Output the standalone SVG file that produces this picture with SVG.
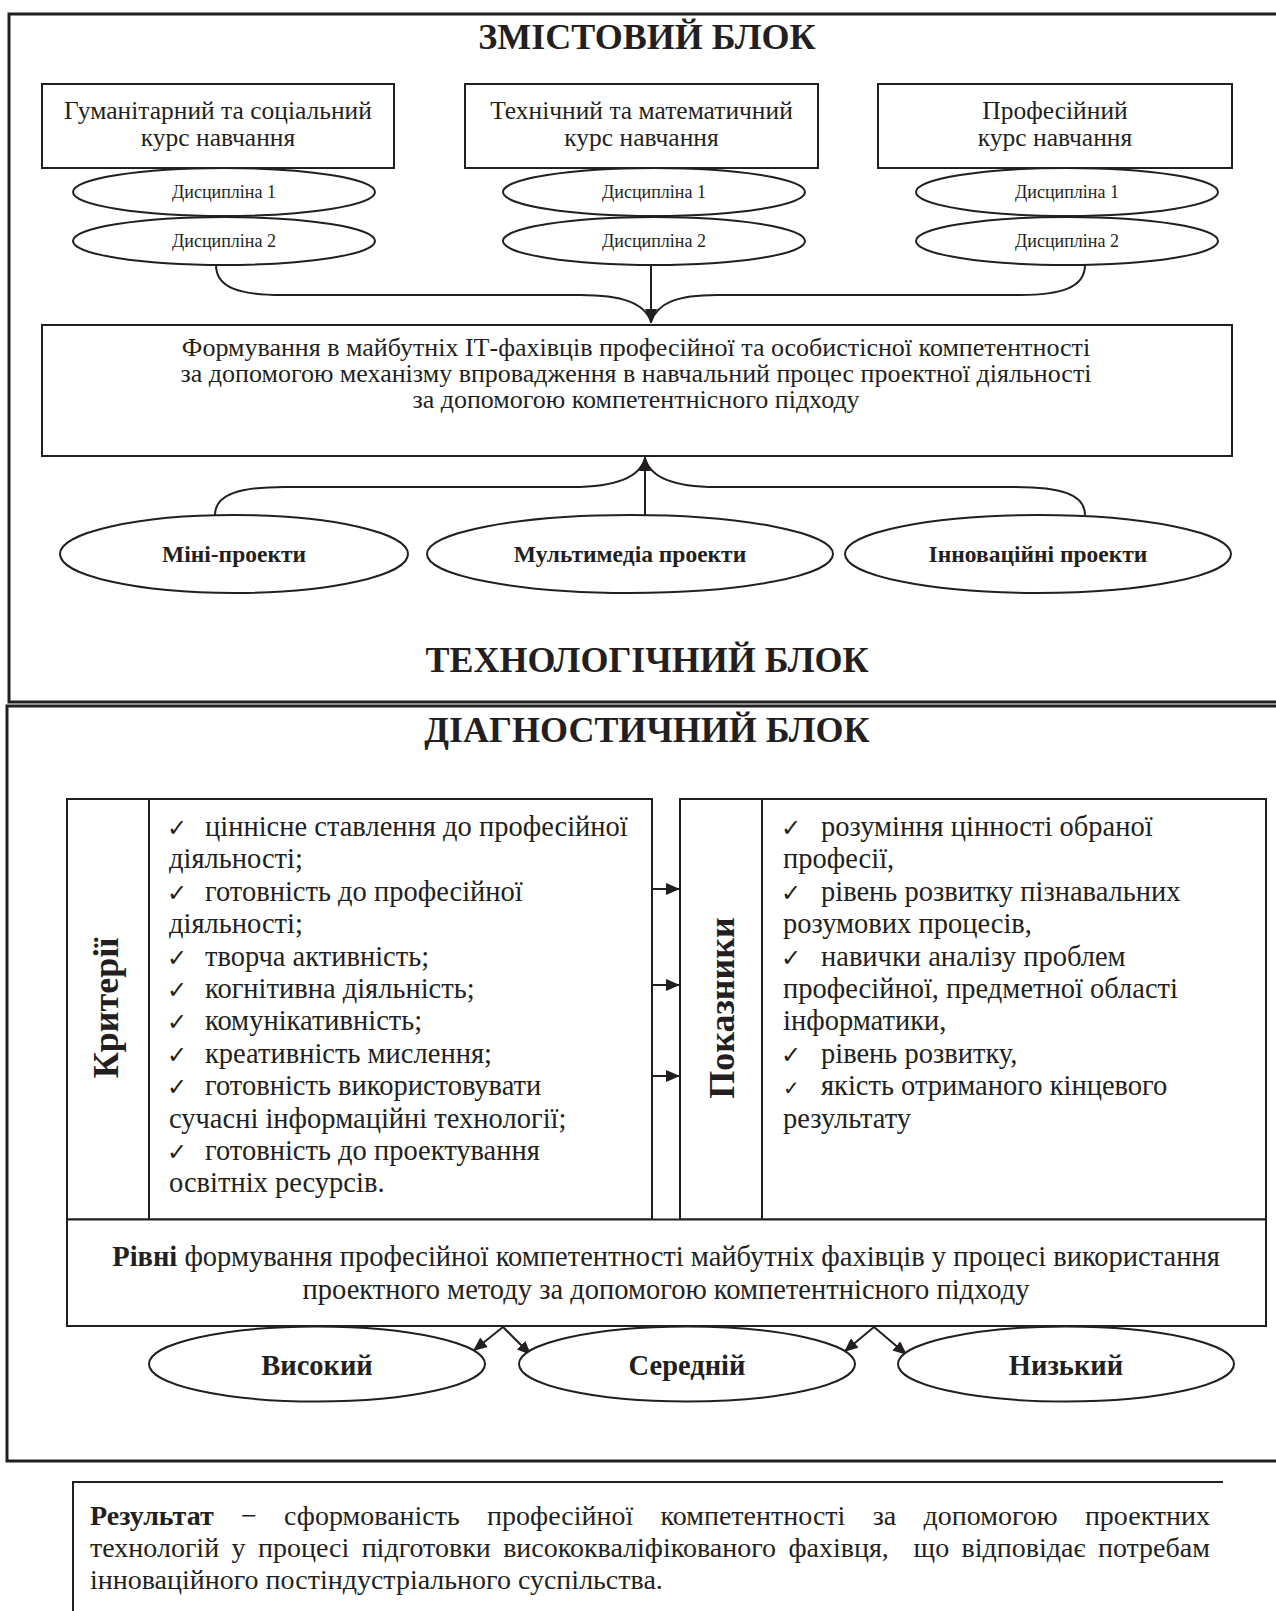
<svg xmlns="http://www.w3.org/2000/svg" width="1276" height="1611" viewBox="0 0 1276 1611">
<defs>
<marker id="ah" viewBox="0 0 14 12" refX="14" refY="6" markerWidth="14" markerHeight="12" markerUnits="userSpaceOnUse" orient="auto"><path d="M0,0 L14,6 L0,12 z" fill="#231f20"/></marker>
</defs>
<style>
text{font-family:"Liberation Serif","Times New Roman",serif;fill:#231f20}
.frame{fill:none;stroke:#231f20;stroke-width:3}
.box{fill:#fff;stroke:#231f20;stroke-width:2}
.ell{fill:#fff;stroke:#231f20;stroke-width:2}
.con{fill:none;stroke:#231f20;stroke-width:2}
.title{font-size:36px;font-weight:bold;text-anchor:middle}
.course{font-size:25.5px;text-anchor:middle}
.disc{font-size:18px;text-anchor:middle}
.main{font-size:26px;text-anchor:middle}
.proj{font-size:23.5px;font-weight:bold;text-anchor:middle}
.list{font-size:28.5px}
.chk{font-family:"DejaVu Sans",sans-serif;font-size:24px}
.vlab{font-size:36px;font-weight:bold;text-anchor:middle}
.lvl{font-size:28.5px;font-weight:bold;text-anchor:middle}
.res{font-size:28px}
</style>
<rect width="1276" height="1611" fill="#fff"/>

<!-- frames -->
<path class="frame" d="M1276,14 H9 V702 H1276"/>
<path class="frame" d="M1276,706 H7 V1461 H1276"/>
<path class="frame" style="stroke-width:2" d="M1223,1482 H73 V1611"/>

<text class="title" x="647" y="49">ЗМІСТОВИЙ БЛОК</text>
<text class="title" x="647" y="672">ТЕХНОЛОГІЧНИЙ БЛОК</text>
<text class="title" x="647" y="742">ДІАГНОСТИЧНИЙ БЛОК</text>

<g id="connectors">
<path class="con" d="M216,265 C216,288 240,295 282,295 L580,295 C622,295 645,303 651,322"/>
<path class="con" d="M651,265 L651,323" marker-end="url(#ah)"/>
<path class="con" d="M1085,265 C1085,288 1060,295 1020,295 L717,295 C677,295 657,303 651,322"/>
<path class="con" d="M215,515 C215,494 240,487 285,487 L572,487 C615,487 640,478 645,458"/>
<path class="con" d="M645,515 L645,457" marker-end="url(#ah)"/>
<path class="con" d="M1085,515 C1085,494 1060,487 1015,487 L716,487 C676,487 650,478 645,458"/>
<path class="con" d="M652,889 L680,889" marker-end="url(#ah)"/>
<path class="con" d="M652,985 L680,985" marker-end="url(#ah)"/>
<path class="con" d="M652,1076 L680,1076" marker-end="url(#ah)"/>
<path class="con" d="M503,1327 L473,1351" marker-end="url(#ah)"/>
<path class="con" d="M503,1327 L531,1355" marker-end="url(#ah)"/>
<path class="con" d="M874,1327 L844,1352" marker-end="url(#ah)"/>
<path class="con" d="M874,1327 L907,1355" marker-end="url(#ah)"/>
</g>

<g id="course1">
<rect class="box" x="42" y="84" width="352" height="84"/>
<text class="course" x="218" y="119">Гуманітарний та соціальний</text>
<text class="course" x="218" y="146">курс навчання</text>
</g>
<g id="course2">
<rect class="box" x="465" y="84" width="353" height="84"/>
<text class="course" x="641.5" y="119">Технічний та математичний</text>
<text class="course" x="641.5" y="146">курс навчання</text>
</g>
<g id="course3">
<rect class="box" x="878" y="84" width="354" height="84"/>
<text class="course" x="1055" y="119">Професійний</text>
<text class="course" x="1055" y="146">курс навчання</text>
</g>

<g id="disc1-1"><ellipse class="ell" cx="224" cy="192" rx="151" ry="24"/><text class="disc" x="224" y="198">Дисципліна 1</text></g>
<g id="disc1-2"><ellipse class="ell" cx="224" cy="241" rx="151" ry="24"/><text class="disc" x="224" y="247">Дисципліна 2</text></g>
<g id="disc2-1"><ellipse class="ell" cx="654" cy="192" rx="151" ry="24"/><text class="disc" x="654" y="198">Дисципліна 1</text></g>
<g id="disc2-2"><ellipse class="ell" cx="654" cy="241" rx="151" ry="24"/><text class="disc" x="654" y="247">Дисципліна 2</text></g>
<g id="disc3-1"><ellipse class="ell" cx="1067" cy="192" rx="151" ry="24"/><text class="disc" x="1067" y="198">Дисципліна 1</text></g>
<g id="disc3-2"><ellipse class="ell" cx="1067" cy="241" rx="151" ry="24"/><text class="disc" x="1067" y="247">Дисципліна 2</text></g>

<g id="formation">
<rect class="box" x="42" y="325" width="1190" height="131"/>
<text class="main" x="636" y="356">Формування в майбутніх ІТ-фахівців професійної та особистісної компетентності</text>
<text class="main" x="636" y="382">за допомогою механізму впровадження в навчальний процес проектної діяльності</text>
<text class="main" x="636" y="408">за допомогою компетентнісного підходу</text>
</g>

<g id="mini"><ellipse class="ell" cx="234" cy="554" rx="174" ry="39"/><text class="proj" x="234" y="562">Міні-проекти</text></g>
<g id="multimedia"><ellipse class="ell" cx="630" cy="554" rx="203" ry="39"/><text class="proj" x="630" y="562">Мультимедіа проекти</text></g>
<g id="innov"><ellipse class="ell" cx="1038" cy="554" rx="193" ry="39"/><text class="proj" x="1038" y="562">Інноваційні проекти</text></g>

<g id="criteria">
<rect class="box" x="67" y="799" width="585" height="420.5"/>
<line class="con" x1="149" y1="799" x2="149" y2="1219.5"/>
<text class="vlab" transform="translate(117.5,1008) rotate(-90)">Критерії</text>
<text class="list" y="836"><tspan class="chk" x="167">✓</tspan><tspan x="205">ціннісне ставлення до професійної</tspan></text>
<text class="list" x="169" y="868.4">діяльності;</text>
<text class="list" y="900.8"><tspan class="chk" x="167">✓</tspan><tspan x="205">готовність до професійної</tspan></text>
<text class="list" x="169" y="933.2">діяльності;</text>
<text class="list" y="965.6"><tspan class="chk" x="167">✓</tspan><tspan x="205">творча активність;</tspan></text>
<text class="list" y="998"><tspan class="chk" x="167">✓</tspan><tspan x="205">когнітивна діяльність;</tspan></text>
<text class="list" y="1030.4"><tspan class="chk" x="167">✓</tspan><tspan x="205">комунікативність;</tspan></text>
<text class="list" y="1062.8"><tspan class="chk" x="167">✓</tspan><tspan x="205">креативність мислення;</tspan></text>
<text class="list" y="1095.2"><tspan class="chk" x="167">✓</tspan><tspan x="205">готовність використовувати</tspan></text>
<text class="list" x="169" y="1127.6">сучасні інформаційні технології;</text>
<text class="list" y="1160"><tspan class="chk" x="167">✓</tspan><tspan x="205">готовність до проектування</tspan></text>
<text class="list" x="169" y="1192.4">освітніх ресурсів.</text>
</g>

<g id="indicators">
<rect class="box" x="680" y="799" width="586" height="420.5"/>
<line class="con" x1="762" y1="799" x2="762" y2="1219.5"/>
<text class="vlab" transform="translate(734,1008) rotate(-90)">Показники</text>
<text class="list" y="836"><tspan class="chk" x="781">✓</tspan><tspan x="821">розуміння цінності обраної</tspan></text>
<text class="list" x="783" y="868.4">професії,</text>
<text class="list" y="900.8"><tspan class="chk" x="781">✓</tspan><tspan x="821">рівень розвитку пізнавальних</tspan></text>
<text class="list" x="783" y="933.2">розумових процесів,</text>
<text class="list" y="965.6"><tspan class="chk" x="781">✓</tspan><tspan x="821">навички аналізу проблем</tspan></text>
<text class="list" x="783" y="998">професійної, предметної області</text>
<text class="list" x="783" y="1030.4">інформатики,</text>
<text class="list" y="1062.8"><tspan class="chk" x="781">✓</tspan><tspan x="821">рівень розвитку,</tspan></text>
<text class="list" y="1095.2"><tspan class="chk" x="783" style="font-size:20px">✓</tspan><tspan x="821">якість отриманого кінцевого</tspan></text>
<text class="list" x="783" y="1127.6">результату</text>
</g>

<g id="levels">
<rect class="box" x="67" y="1219.5" width="1199" height="106.5"/>
<text class="list" x="666" y="1266" text-anchor="middle"><tspan font-weight="bold">Рівні</tspan> формування професійної компетентності майбутніх фахівців у процесі використання</text>
<text class="list" x="666" y="1299" text-anchor="middle">проектного методу за допомогою компетентнісного підходу</text>
</g>

<g id="high"><ellipse class="ell" cx="317" cy="1364" rx="168" ry="37.5"/><text class="lvl" x="317" y="1375">Високий</text></g>
<g id="mid"><ellipse class="ell" cx="687" cy="1364" rx="168" ry="37.5"/><text class="lvl" x="687" y="1375">Середній</text></g>
<g id="low"><ellipse class="ell" cx="1066" cy="1364" rx="168" ry="37.5"/><text class="lvl" x="1066" y="1375">Низький</text></g>

<g id="result">
<text class="res" x="90" y="1525" word-spacing="20.3"><tspan font-weight="bold">Результат</tspan> − сформованість професійної компетентності за допомогою проектних</text>
<text class="res" x="90" y="1557" word-spacing="5.4" xml:space="preserve">технологій у процесі підготовки висококваліфікованого фахівця,  що відповідає потребам</text>
<text class="res" x="90" y="1589">інноваційного постіндустріального суспільства.</text>
</g>
</svg>
